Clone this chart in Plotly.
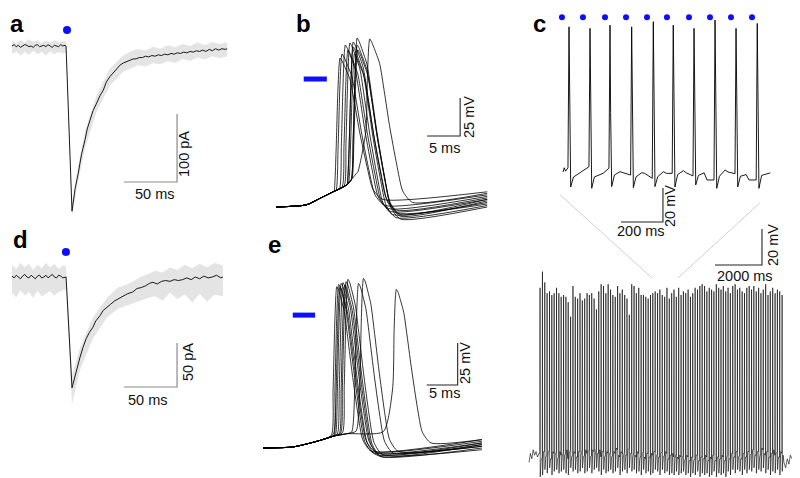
import plotly.graph_objects as go

W, H = 800, 478
OFF = 8  # page body margin in the browser shifts the figure by this many pixels
FONT = "Liberation Sans, Arial, sans-serif"
BLUE = "#0d0dff"

# ---------------- panel a : light evoked current (mean + single sweeps) ----------------
A_T = [0, 2, 4, 6, 8, 10, 12, 14, 16, 18, 20, 22, 24, 26, 28, 30, 32, 34, 36, 38, 40, 42, 44, 46, 48, 50,
       51, 56.6, 59.5, 62.5, 65.5, 68.9, 71, 73.6, 76.5, 79.9, 83, 86.1, 89, 92.4, 95.5, 98.7, 102, 105,
       108, 111, 114.4, 117, 120, 123, 126, 129, 132, 135, 138, 141, 144, 147, 150, 153, 156, 159, 162,
       165, 168, 171, 174, 177, 180, 183, 186, 189, 192, 195, 198, 201, 203]
A_I = [0, 2, -1, 1, -2, 0, 2, 1, -1, 0, -2, 1, 2, -1, 0, 1, -1, 2, 0, -2, 1, 0, -1, 2, 0, 1,
       0, -243, -210, -187, -160, -138, -122, -109, -95, -84, -73, -65, -53, -45, -39, -33, -28, -25,
       -23, -22, -19, -19, -17, -17, -15, -16, -14, -15, -13, -14, -12, -13, -11, -12, -10, -11, -9,
       -10, -8, -9, -7, -8, -6, -8, -5, -7, -4, -6, -4, -5, -4]
A_ENV_T = [0, 4, 8, 12, 16, 20, 24, 28, 32, 36, 40, 44, 48, 51, 56.6, 62.5, 68.9, 79.9, 92.4, 105,
           112, 119, 126, 133, 140, 147, 154, 161, 168, 175, 182, 189, 196, 203]
A_ENV_HI = [8, 4, 9, 5, 10, 6, 9, 4, 8, 5, 9, 6, 7, 7, -233, -175, -125, -72, -33, -14,
            -8, -4, -7, -1, -4, 1, -2, 3, 0, 5, 1, 6, 3, 6]
A_ENV_LO = [-12, -8, -14, -9, -13, -7, -12, -9, -14, -8, -12, -9, -11, -10, -250, -198, -150, -96,
            -58, -38, -33, -28, -30, -25, -27, -22, -25, -19, -22, -17, -20, -15, -18, -15]
A_LIGHT_T = [51.9]
A_LIGHT_I = [23.5]
A_BAR_T = [105.7, 155.7, 155.7]
A_BAR_I = [-200, -200, -100]

# ---------------- panel d ----------------
D_T = [0, 2, 4, 6, 8, 10, 12, 14, 16, 18, 20, 22, 24, 26, 28, 30, 32, 34, 36, 38, 40, 42, 44, 46, 48, 50,
       51, 56.6, 58.5, 61, 64.2, 67, 70, 73, 76.4, 79, 83, 86, 89.6, 93, 97, 101, 105, 109, 114, 118,
       122, 126, 130, 133, 137, 141, 145, 149, 153, 157, 161, 165, 169, 173, 177, 181, 185, 189, 193,
       197, 199]
D_I = [1, -1, 2, 0, -2, 1, 3, 0, -1, 2, 0, -2, 1, 2, -1, 0, 2, -1, 1, 3, 0, -1, 2, 1, -1, 0,
       0, -126, -117, -103, -91, -80, -70, -63, -57, -50, -44, -38, -34, -31, -27, -24, -21, -19, -17,
       -13, -12, -10, -7, -6, -8, -5, -4, -5, -3, -4, -3, -1, -3, 0, -2, 1, -1, 0, 2, -1, 0]
D_ENV_T = [0, 4, 8, 12, 16, 20, 24, 28, 32, 36, 40, 44, 48, 51, 56.6, 64.2, 76.4, 89.6, 100, 107,
           114, 121, 128, 135, 142, 149, 156, 163, 170, 177, 184, 191, 199]
D_ENV_HI = [14, 9, 16, 11, 15, 8, 14, 10, 16, 11, 15, 9, 13, 12, -112, -80, -46, -24, -12, -9,
            -5, 0, 3, 7, 5, 11, 8, 14, 10, 15, 11, 16, 13]
D_ENV_LO = [-18, -23, -15, -21, -17, -24, -16, -22, -19, -16, -21, -17, -15, -14, -145, -105, -70,
            -46, -36, -33, -30, -27, -24, -22, -27, -18, -25, -20, -29, -19, -28, -20, -22]
D_LIGHT_T = [50.9]
D_LIGHT_I = [28.4]
D_BAR_T = [105.7, 155.7, 155.7]
D_BAR_I = [-125, -125, -75]

# ---------------- action potential shape (shared by b and e) ----------------
AP_RISE_DT = [-0.6, -0.35, -0.15, 0.0]
AP_RISE_FRAC = [0.3, 0.72, 0.94, 1.0]
AP_FALL_FRAC = [0.98, 0.94, 0.85, 0.68, 0.47, 0.23, 0.07, 0.0]

# ---------------- panel b ----------------
B_RAMP_T = [0, 4.6, 6.7, 8.7, 10.7, 12.2]
B_RAMP_V = [-65, -63.6, -59.2, -54.9, -50.5, -42.8]
B_FALL_DT = [0.3, 0.7, 1.5, 2.2, 3.0, 4.1, 5.0, 6.5]
B_PEAK_T = [9.7, 10.0, 10.5, 10.9, 11.2, 11.7, 11.7, 11.9, 12.3, 12.3, 12.4, 14.2]
B_PEAK_V = [33.0, 35.7, 41.6, 38.3, 42.9, 40.3, 43.6, 35.7, 46.2, 41.6, 38.3, 45.6]
B_DEP_T = [8.8, 9.1, 9.6, 10.0, 10.3, 10.8, 10.8, 11.0, 11.4, 11.4, 11.5, 12.4]
B_DEP_V = [-54.7, -54.0, -53.0, -52.0, -51.4, -50.0, -50.0, -49.0, -47.0, -47.0, -46.5, -42.0]
B_TROUGH_V = [-60, -64, -66, -68, -70, -72, -67, -69, -71, -70, -73, -62]
B_END_V = [-55, -57, -58, -60, -62, -64, -59, -63, -61, -60, -65, -56]
B_END_T = 32.0
B_LIGHT_T = [4.2, 7.7]
B_LIGHT_V = [19.2, 19.2]
B_BAR_T = [22.9, 27.9, 27.9]
B_BAR_V = [-18.3, -18.3, 6.7]

# ---------------- panel e ----------------
E_RAMP_T = [0, 4.8, 8.7, 11.3, 13.5]
E_RAMP_V = [-65, -64.4, -61.0, -58.0, -56.5]
E_FALL_DT = [0.3, 0.6, 1.2, 1.8, 2.5, 3.4, 4.2, 5.6]
E_PEAK_T = [11.9, 12.2, 12.4, 12.6, 12.9, 13.2, 13.4, 13.7, 15.4, 16.2, 21.5]
E_PEAK_V = [31.0, 32.4, 31.0, 33.0, 33.4, 32.0, 34.0, 35.4, 33.0, 36.0, 29.4]
E_DEP_T = [11.0, 11.3, 11.5, 11.7, 12.0, 12.3, 12.5, 12.8, 14.3, 15.0, 19.4]
E_DEP_V = [-57.5, -57.0, -57.2, -56.8, -56.6, -56.5, -56.3, -56.0, -55.5, -55.0, -55.3]
E_TROUGH_V = [-67, -68, -67, -69, -68, -70, -70, -69, -68, -67, -62]
E_END_V = [-60, -62, -61, -63, -64, -63, -65, -66, -62, -64, -60]
E_END_T = 35.3
E_LIGHT_T = [4.8, 8.4]
E_LIGHT_V = [14.1, 14.1]
E_BAR_T = [26.4, 31.4, 31.4]
E_BAR_V = [-27.5, -27.5, -2.5]

# ---------------- panel c, top (1 s excerpt, 10 Hz light) ----------------
CT_START_T = [0, 6, 12, 18]
CT_START_V = [-60, -57.5, -59.5, -58.5]
CT_SPIKE_T = [28.6, 128.6, 223.8, 327, 430, 525, 624, 724, 824, 925]
CT_PEAK = [25.4, 24.5, 26.4, 25.4, 28.4, 26.4, 24.5, 29.4, 24.5, 27.4]
CT_PRE = [-57.5, -56.9, -57.8, -61.8, -63.7, -60.8, -62.3, -64.7, -61.0, -64.7]
CT_TROUGH = [-68.8, -69.6, -68.6, -69.2, -68.6, -68.8, -67.6, -69.6, -68.8, -69.6]
CT_EARLY = [-63.0, -62.9, -61.8, -62.8, -62.8, -61.5, -62.0, -62.5, -62.5, -62.0]
CT_MID = [-60.8, -61.8, -59.8, -60.4, -59.8, -59.2, -60.5, -58.8, -61.5, -60.8]
CT_LATE = [-59.2, -60.8, -60.4, -60.8, -60.8, -60.5, -64.7, -60.0, -64.7, -60.5]
CT_SHAPE_DT = [3, 8, 21, 48]          # after-spike sample offsets (ms)
CT_LATE_DT = 62
CT_PRE_DT = -5
CT_LIGHT_T = [-5, 95, 200, 300, 400, 495, 600, 700, 800, 900]
CT_LIGHT_V = [31] * 10
CT_BAR_T = [276, 476, 476]
CT_BAR_V = [-89.4, -89.4, -69.4]

# ---------------- panel c, bottom (full 11 s train) ----------------
CB_START_T = [0, 60, 120, 180, 240, 300, 360, 420]
CB_START_V = [-63, -58, -61, -56, -59, -57, -60, -58]
CB_SPIKE_T = [470, 572, 671, 770, 873, 971, 1070, 1172, 1270, 1369,
              1471, 1570, 1668, 1770, 1871, 1969, 2070, 2171, 2269, 2370,
              2472, 2570, 2669, 2771, 2870, 2968, 3070, 3172, 3270, 3369,
              3471, 3569, 3670, 3771, 3869, 3970, 4072, 4170, 4269, 4371,
              4470, 4568, 4670, 4772, 4870, 4969, 5071, 5170, 5268, 5370,
              5471, 5569, 5670, 5772, 5870, 5969, 6071, 6170, 6268, 6370,
              6472, 6570, 6669, 6771, 6870, 6968, 7070, 7172, 7270, 7369,
              7471, 7569, 7670, 7771, 7869, 7970, 8072, 8170, 8269, 8371,
              8470, 8568, 8670, 8772, 8870, 8969, 9071, 9170, 9268, 9370,
              9471, 9569, 9670, 9772, 9870, 9969, 10071, 10170, 10268, 10370,
              10472, 10570, 10669, 10770]
CB_PEAK = [34, 43, 37, 31, 32, 30, 31, 34, 31, 29,
           30, 29, 26, 18, 35, 29, 28, 31, 27, 28,
           31, 30, 31, 28, 22, 32, 36, 35, 31, 36,
           33, 30, 29, 35, 31, 33, 30, 28, 19, 36,
           35, 31, 34, 30, 30, 29, 28, 30, 31, 32,
           31, 33, 30, 29, 34, 28, 31, 33, 29, 34,
           30, 32, 31, 33, 29, 31, 34, 33, 35, 36,
           35, 32, 34, 33, 32, 36, 34, 33, 35, 32,
           34, 31, 35, 36, 33, 34, 32, 31, 34, 35,
           33, 35, 32, 34, 31, 33, 36, 30, 32, 34,
           31, 33, 32, 30]
CB_PRE = [-58, -60, -57, -59, -56, -61, -58, -57, -60, -59,
          -57, -58, -61, -56, -59, -58, -60, -57, -56, -59,
          -58, -56, -59, -57, -55, -58, -60, -57, -59, -58,
          -57, -59, -58, -56, -60, -58, -57, -59, -55, -58,
          -57, -60, -58, -59, -57, -61, -58, -60, -59, -57,
          -58, -60, -57, -59, -58, -61, -59, -60, -58, -61,
          -60, -59, -61, -60, -62, -60, -61, -59, -62, -60,
          -61, -60, -62, -61, -59, -62, -60, -61, -60, -62,
          -59, -61, -58, -60, -57, -59, -61, -58, -60, -57,
          -58, -56, -59, -57, -58, -56, -59, -57, -60, -58,
          -59, -57, -60, -58]
CB_TROUGH = [-71, -70, -67, -69, -66, -70, -68, -67, -69, -68,
             -67, -69, -70, -66, -68, -67, -69, -68, -66, -69,
             -68, -66, -69, -67, -66, -68, -70, -67, -69, -68,
             -67, -69, -68, -66, -70, -68, -67, -69, -66, -68,
             -67, -69, -68, -70, -67, -69, -68, -70, -69, -67,
             -68, -70, -67, -69, -68, -70, -69, -70, -68, -70,
             -69, -68, -70, -69, -71, -69, -70, -68, -71, -69,
             -70, -69, -71, -70, -68, -71, -69, -70, -69, -71,
             -68, -70, -67, -69, -67, -68, -70, -67, -69, -67,
             -68, -66, -69, -67, -68, -66, -69, -67, -70, -68,
             -69, -67, -70, -68]
CB_MID = [-62, -57, -60, -58, -61, -57, -59, -61, -57, -60,
          -59, -56, -58, -60, -57, -60, -57, -59, -60, -56,
          -57, -60, -56, -59, -58, -56, -57, -60, -57, -59,
          -60, -57, -55, -59, -57, -60, -59, -56, -58, -60,
          -59, -57, -61, -58, -60, -58, -60, -58, -57, -60,
          -60, -58, -60, -57, -61, -59, -58, -61, -60, -59,
          -61, -62, -59, -62, -60, -62, -59, -62, -60, -61,
          -59, -62, -60, -59, -62, -60, -61, -59, -62, -60,
          -61, -58, -60, -57, -60, -61, -58, -60, -57, -59,
          -56, -59, -57, -60, -55, -58, -57, -60, -58, -56,
          -58, -60, -57, -59]
CB_PRE_DT, CB_TROUGH_DT, CB_MID_DT = -8, 6, 45
CB_END_T = [10850, 10920, 10990, 11060, 11120, 11190]
CB_END_V = [-63, -66, -61, -64, -59, -61]
CB_ZOOM_T = [[1319, 5234], [9829, 6340]]
CB_ZOOM_V = [[85.7, 39.5], [81.2, 39.5]]
CB_BAR_T = [7914, 9914, 9914]
CB_BAR_V = [46.7, 46.7, 66.7]

fig = go.Figure()


def panel(n, box, ref, scale):
    """box in page pixels (left, right, top, bottom); ref = (px, py, x value, y value)."""
    px0, px1, py0, py1 = box
    rx, ry, xv, yv = ref
    sx, sy = scale
    fx0, fx1 = max(px0 - OFF, 0), min(px1 - OFF, W)
    fy0, fy1 = max(py0 - OFF, 0), min(py1 - OFF, H)
    s = '' if n == 1 else str(n)
    fig.update_layout({
        'xaxis' + s: dict(domain=[fx0 / W, fx1 / W], visible=False, fixedrange=True,
                          range=[xv + (fx0 + OFF - rx) * sx, xv + (fx1 + OFF - rx) * sx],
                          anchor='y' + s),
        'yaxis' + s: dict(domain=[1 - fy1 / H, 1 - fy0 / H], visible=False, fixedrange=True,
                          range=[yv - (fy1 + OFF - ry) * sy, yv - (fy0 + OFF - ry) * sy],
                          anchor='x' + s),
    })
    return 'x' + s, 'y' + s


def line(ax, x, y, color='black', width=1.0, shape='linear'):
    fig.add_trace(go.Scatter(x=x, y=y, mode='lines',
                             line=dict(color=color, width=width, shape=shape, smoothing=0.6),
                             xaxis=ax[0], yaxis=ax[1], hoverinfo='skip'))


def band(ax, t, hi, lo):
    fig.add_trace(go.Scatter(x=t + t[::-1], y=hi + lo[::-1], mode='lines', fill='toself',
                             fillcolor='rgba(195,195,195,0.45)', line=dict(width=0),
                             xaxis=ax[0], yaxis=ax[1], hoverinfo='skip'))


def dot(ax, x, y, size=8):
    fig.add_trace(go.Scatter(x=x, y=y, mode='markers', marker=dict(color=BLUE, size=size),
                             xaxis=ax[0], yaxis=ax[1], hoverinfo='skip'))


def ap(ax, ramp_t, ramp_v, fall_dt, tdep, vdep, tp, vp, vt, tend, vend):
    t = [x for x in ramp_t if x < tdep]
    v = ramp_v[:len(t)]
    t.append(tdep)
    v.append(vdep)
    for dt, f in zip(AP_RISE_DT, AP_RISE_FRAC):
        t.append(tp + dt)
        v.append(vdep + f * (vp - vdep))
    for dt, f in zip(fall_dt, AP_FALL_FRAC):
        t.append(tp + dt)
        v.append(vt + f * (vp - vt))
    t.append(tend)
    v.append(vend)
    line(ax, t, v, width=0.8, shape='spline')


# ---- a
ax_a = panel(1, (0, 240, 0, 230), (12, 46, 0, 0), (50 / 53, 100 / 68))
band(ax_a, A_ENV_T, A_ENV_HI, A_ENV_LO)
line(ax_a, A_T, A_I, color='#1a1a1a', width=1.0)
dot(ax_a, A_LIGHT_T, A_LIGHT_I)
line(ax_a, A_BAR_T, A_BAR_I, color='#8a8a8a', width=1.2)

# ---- d
ax_d = panel(2, (0, 240, 230, 478), (12, 277, 0, 0), (50 / 53, 50 / 44))
band(ax_d, D_ENV_T, D_ENV_HI, D_ENV_LO)
line(ax_d, D_T, D_I, color='#1a1a1a', width=1.0)
dot(ax_d, D_LIGHT_T, D_LIGHT_I)
line(ax_d, D_BAR_T, D_BAR_I, color='#8a8a8a', width=1.2)

# ---- b
ax_b = panel(3, (240, 510, 0, 230), (276, 207, 0, -65), (5 / 33, 25 / 38))
for i in range(len(B_PEAK_T)):
    ap(ax_b, B_RAMP_T, B_RAMP_V, B_FALL_DT, B_DEP_T[i], B_DEP_V[i], B_PEAK_T[i], B_PEAK_V[i],
       B_TROUGH_V[i], B_END_T, B_END_V[i])
line(ax_b, B_LIGHT_T, B_LIGHT_V, color=BLUE, width=5)
line(ax_b, B_BAR_T, B_BAR_V, color='#222', width=1.1)

# ---- e
ax_e = panel(4, (240, 510, 230, 478), (263, 448, 0, -65), (5 / 31, 25 / 42))
for i in range(len(E_PEAK_T)):
    ap(ax_e, E_RAMP_T, E_RAMP_V, E_FALL_DT, E_DEP_T[i], E_DEP_V[i], E_PEAK_T[i], E_PEAK_V[i],
       E_TROUGH_V[i], E_END_T, E_END_V[i])
line(ax_e, E_LIGHT_T, E_LIGHT_V, color=BLUE, width=5)
line(ax_e, E_BAR_T, E_BAR_V, color='#222', width=1.1)

# ---- c top
ax_ct = panel(5, (520, 800, 0, 240), (563, 172, 0, -60), (200 / 42, 20 / 34))
ct_t, ct_v = list(CT_START_T), list(CT_START_V)
for i, ts in enumerate(CT_SPIKE_T):
    ct_t += [ts + CT_PRE_DT, ts]
    ct_v += [CT_PRE[i], CT_PEAK[i]]
    ct_t += [ts + d for d in CT_SHAPE_DT]
    ct_v += [-25, CT_TROUGH[i], CT_EARLY[i], CT_MID[i]]
    ct_t.append(ts + CT_LATE_DT)
    ct_v.append(CT_LATE[i])
line(ax_ct, ct_t, ct_v, width=0.9)
dot(ax_ct, CT_LIGHT_T, CT_LIGHT_V, size=6)
line(ax_ct, CT_BAR_T, CT_BAR_V, color='#222', width=1.1)

# ---- c bottom
ax_cb = panel(6, (520, 800, 185, 478), (529, 457, 0, -60), (2000 / 47, 20 / 36))
for zt, zv in zip(CB_ZOOM_T, CB_ZOOM_V):
    line(ax_cb, zt, zv, color='#d0d0d0', width=1)
cb_t, cb_v = list(CB_START_T), list(CB_START_V)
for i, ts in enumerate(CB_SPIKE_T):
    cb_t += [ts + CB_PRE_DT, ts, ts + CB_TROUGH_DT, ts + CB_MID_DT]
    cb_v += [CB_PRE[i], CB_PEAK[i], CB_TROUGH[i], CB_MID[i]]
cb_t += CB_END_T
cb_v += CB_END_V
line(ax_cb, cb_t, cb_v, width=0.6)
line(ax_cb, CB_BAR_T, CB_BAR_V, color='#222', width=1.1)

# ---- text (positions in page pixels)
LETTERS_TOP = [('a', 17), ('b', 303), ('c', 539)]
LETTERS = [('d', 20, 240), ('e', 274, 244)]
LABELS = [('100 pA', 184, 154, -90), ('50 ms', 155, 194, 0),
          ('25 mV', 469, 117, -90), ('5 ms', 444, 148, 0),
          ('20 mV', 670, 206, -90), ('200 ms', 641, 231, 0),
          ('20 mV', 773, 245, -90), ('2000 ms', 745, 276, 0),
          ('50 pA', 188, 362, -90), ('50 ms', 148, 400, 0),
          ('25 mV', 465, 363, -90), ('5 ms', 444, 393, 0)]
letter_font = dict(family=FONT, size=24, color='black')
ann = []
for s, x in LETTERS_TOP:
    ann.append(dict(text='<b>%s</b>' % s, x=(x - OFF) / W, y=1.0, xref='paper', yref='paper',
                    showarrow=False, xanchor='center', yanchor='top', font=letter_font))
for s, x, y in LETTERS:
    ann.append(dict(text='<b>%s</b>' % s, x=(x - OFF) / W, y=1 - (y - OFF) / H,
                    xref='paper', yref='paper', showarrow=False,
                    xanchor='center', yanchor='middle', font=letter_font))
for s, x, y, rot in LABELS:
    ann.append(dict(text=s, x=(x - OFF) / W, y=1 - (y - OFF) / H, xref='paper', yref='paper',
                    textangle=rot, showarrow=False, xanchor='center', yanchor='middle',
                    font=dict(family=FONT, size=14.5, color='#111')))

fig.update_layout(width=W, height=H, margin=dict(l=0, r=0, t=0, b=0),
                  paper_bgcolor='white', plot_bgcolor='rgba(0,0,0,0)',
                  showlegend=False, hovermode=False, annotations=ann)

fig.write_html("out.html", config={'displayModeBar': False})
